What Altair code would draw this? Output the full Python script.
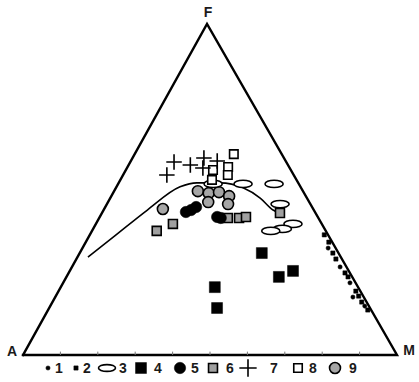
import altair as alt
import pandas as pd

# AFM compositions (A, F, M in %) for each rock group
group1 = [(2.0, 32.3, 65.7), (1.7, 26.6, 71.7), (1.5, 21.8, 76.7), (2.9, 17.5, 79.6), (1.1, 14.8, 84.1)]
group2 = [(1.0, 36.3, 62.7), (0.9, 34.1, 65.0), (1.5, 30.8, 67.7), (1.6, 29.0, 69.4),
          (1.3, 24.8, 73.9), (1.1, 23.6, 75.3), (1.2, 19.3, 79.5), (1.2, 17.8, 81.0),
          (1.3, 16.0, 82.7), (0.9, 13.6, 85.5)]
group3 = [(14.9, 51.7, 33.4), (6.6, 51.7, 41.7), (8.1, 45.6, 46.3), (7.7, 39.6, 52.7),
          (11.3, 38.1, 50.6), (14.7, 37.5, 47.8), (22.9, 51.7, 25.4)]
group4 = [(20.5, 30.8, 48.7), (19.6, 23.6, 56.8), (14.9, 25.4, 59.7), (38.3, 20.5, 41.2),
          (40.9, 14.2, 44.9)]
group5 = [(34.5, 43.2, 22.3), (32.8, 43.8, 23.4), (31.0, 44.7, 24.3), (26.9, 41.7, 31.4),
          (26.1, 41.4, 32.5)]
group6 = [(45.2, 37.5, 17.3), (39.8, 39.6, 20.6), (24.2, 41.4, 34.4), (21.2, 41.4, 37.4),
          (19.2, 41.7, 39.1), (9.5, 42.9, 47.6)]
group7 = [(33.9, 54.4, 11.7), (30.0, 58.3, 11.7), (26.1, 57.4, 16.5), (21.4, 59.5, 19.1),
          (23.2, 56.5, 20.3), (18.3, 58.6, 23.1)]
group8 = [(12.8, 60.7, 26.5), (20.8, 55.9, 23.3), (16.3, 56.8, 26.9), (17.6, 54.4, 28.0),
          (22.6, 52.9, 24.5)]
group9 = [(28.1, 49.5, 22.4), (25.5, 48.9, 25.6), (22.6, 49.2, 28.2), (20.5, 48.0, 31.5),
          (27.0, 46.2, 26.8), (22.0, 45.6, 32.4), (40.2, 44.1, 15.7)]

# Tholeiitic / calc-alkaline dividing line (A, F, M)
boundary = [(67.6, 29.6, 2.8), (57.8, 35.6, 6.6), (44.5, 43.8, 11.7), (32.2, 50.8, 17.0),
            (27.1, 52.0, 20.9), (20.9, 52.0, 27.1), (15.5, 50.5, 34.0), (12.5, 47.4, 40.1),
            (10.9, 43.8, 45.3), (9.8, 42.9, 47.1)]

group_labels = ["1", "2", "3", "4", "5", "6", "7", "8", "9"]
base_ticks = [10, 20, 30, 40, 50, 60, 70, 80, 90]

# Triangle geometry: vertex positions in plot units
VA = (0.0, 0.0)
VM = (100.0, 0.0)
VF = (49.2, 88.5)

W, H = 419, 382
X_DOM = [-6.150, 105.882]
Y_DOM = [-7.219, 94.920]


def to_xy(a, f, m):
    s = a + f + m
    a, f, m = a / s, f / s, m / s
    return (a * VA[0] + f * VF[0] + m * VM[0], a * VA[1] + f * VF[1] + m * VM[1])


def frame(rows):
    pts = [to_xy(*r) for r in rows]
    return pd.DataFrame({"x": [p[0] for p in pts], "y": [p[1] for p in pts],
                         "order": list(range(len(pts)))})


xs = alt.Scale(domain=X_DOM, nice=False, zero=False)
ys = alt.Scale(domain=Y_DOM, nice=False, zero=False)
X = alt.X("x:Q", scale=xs, axis=None)
Y = alt.Y("y:Q", scale=ys, axis=None)

ELLIPSE = "M-1,0A1,0.4,0,1,0,1,0A1,0.4,0,1,0,-1,0Z"
PLUS = "M-1,0L1,0M0,-1L0,1"

styles = {
    "1": dict(shape="circle", filled=True, fill="black", stroke="black", size=18, strokeWidth=0.5),
    "2": dict(shape="square", filled=True, fill="black", stroke="black", size=18, strokeWidth=0.5),
    "3": dict(shape=ELLIPSE, filled=True, fill="white", stroke="black", size=330, strokeWidth=1.6),
    "4": dict(shape="square", filled=True, fill="black", stroke="black", size=120, strokeWidth=0.5),
    "5": dict(shape="circle", filled=True, fill="black", stroke="black", size=130, strokeWidth=0.5),
    "6": dict(shape="square", filled=True, fill="#a0a0a0", stroke="black", size=80, strokeWidth=1.6),
    "7": dict(shape=PLUS, filled=False, stroke="black", size=240, strokeWidth=1.6),
    "8": dict(shape="square", filled=True, fill="white", stroke="black", size=72, strokeWidth=1.6),
    "9": dict(shape="circle", filled=True, fill="#a6a6a6", stroke="black", size=120, strokeWidth=1.6),
}
groups = {"1": group1, "2": group2, "3": group3, "4": group4, "5": group5,
          "6": group6, "7": group7, "8": group8, "9": group9}

# Triangle outline
tri = frame([(100, 0, 0), (0, 0, 100), (0, 100, 0), (100, 0, 0)])
outline = alt.Chart(tri).mark_line(color="black", strokeWidth=2.4, strokeJoin="miter",
                                   strokeCap="square").encode(x=X, y=Y, order="order:Q")

# Small ticks along the A-M side
tk = pd.DataFrame({"x": [to_xy(100 - t, 0, t)[0] for t in base_ticks]})
tk["y"] = 0.0
tk["y2"] = 0.9
ticks = alt.Chart(tk).mark_rule(color="#777777", strokeWidth=1).encode(
    x=X, y=Y, y2="y2:Q")

curve = alt.Chart(frame(boundary)).mark_line(
    color="black", strokeWidth=1.6, interpolate="monotone").encode(x=X, y=Y, order="order:Q")

draw_order = ["4", "6", "9", "5", "3", "8", "7", "2", "1"]
point_layers = []
for g in draw_order:
    st = styles[g]
    point_layers.append(alt.Chart(frame(groups[g])).mark_point(opacity=1, **st).encode(x=X, y=Y))

# Vertex labels
lab_font = dict(font="Liberation Sans", fontSize=14, fontWeight="bold", color="#1a1a1a")
lab_A = alt.Chart(pd.DataFrame({"x": [VA[0]], "y": [VA[1]], "t": ["A"]})).mark_text(
    dx=-11, dy=-3, **lab_font).encode(x=X, y=Y, text="t:N")
lab_M = alt.Chart(pd.DataFrame({"x": [VM[0]], "y": [VM[1]], "t": ["M"]})).mark_text(
    dx=12, dy=-4, **lab_font).encode(x=X, y=Y, text="t:N")
lab_F = alt.Chart(pd.DataFrame({"x": [VF[0]], "y": [VF[1]], "t": ["F"]})).mark_text(
    dx=1, dy=-11, **lab_font).encode(x=X, y=Y, text="t:N")

# Legend row beneath the triangle
leg_sym_x = [48, 76, 107, 141, 180, 213, 248, 298, 335]
leg_txt_x = [59, 87, 123, 158, 195, 230, 274, 313, 353]
leg_y = 368
legend_layers = []
for i, g in enumerate(group_labels):
    st = dict(styles[g])
    if g in ("1", "2"):
        st["size"] = 18
    if g == "7":
        st["size"] = 300
    if g == "3":
        st["size"] = 290
    legend_layers.append(
        alt.Chart(pd.DataFrame({"t": [g]})).mark_point(opacity=1, **st).encode(
            x=alt.value(leg_sym_x[i]), y=alt.value(leg_y)))
    legend_layers.append(
        alt.Chart(pd.DataFrame({"t": [g]})).mark_text(**lab_font).encode(
            x=alt.value(leg_txt_x[i]), y=alt.value(leg_y + 1), text="t:N"))

chart = alt.layer(outline, ticks, curve, *point_layers, lab_A, lab_M, lab_F,
                  *legend_layers).properties(
    width=W, height=H, padding=0, autosize=alt.AutoSizeParams(type="none"),
    background="white"
).configure_view(stroke=None)

chart.save("out.html", embed_options={"renderer": "svg", "actions": False})
